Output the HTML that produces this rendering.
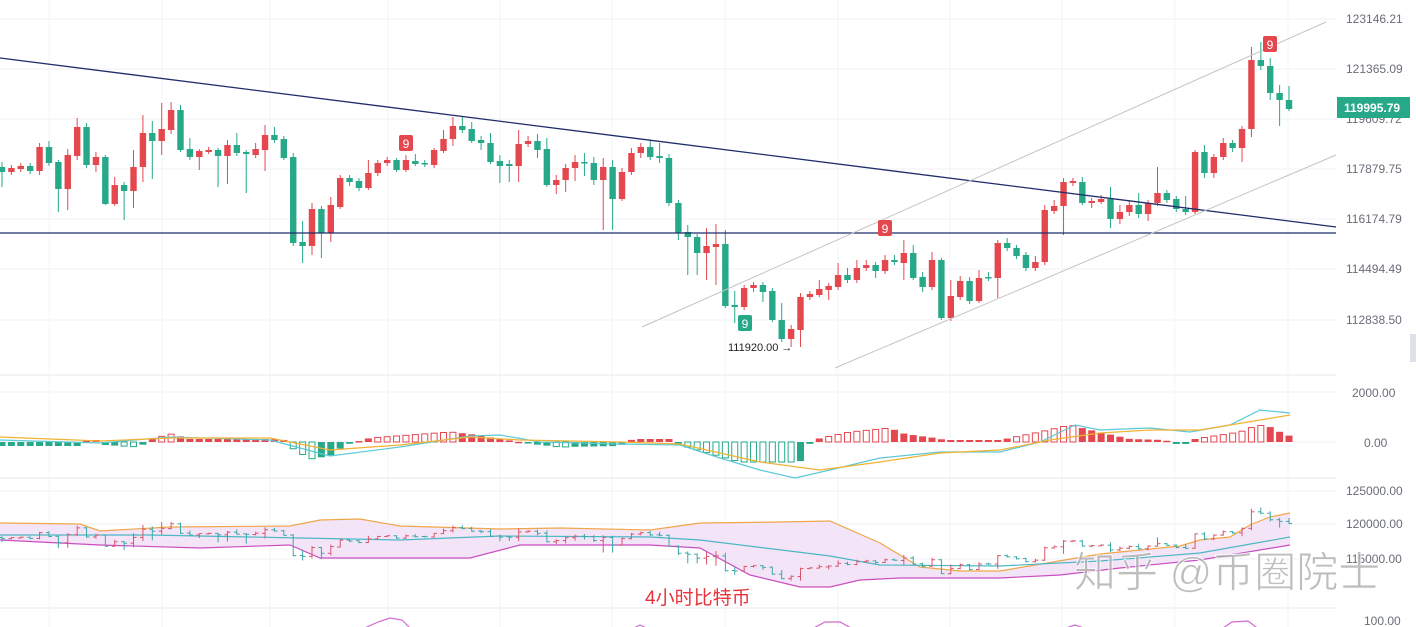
<!DOCTYPE html>
<html><head><meta charset="utf-8"><style>
html,body{margin:0;padding:0;background:#fff;width:1416px;height:627px;overflow:hidden}
svg{display:block;font-family:"Liberation Sans","Noto Sans CJK SC",sans-serif}
</style></head><body>
<svg id="s" width="1416" height="627" viewBox="0 0 1416 627" xmlns="http://www.w3.org/2000/svg">
<g id="grid"></g>
<g id="main"></g>
<g font-size="12" fill="#6a6d78">
<text x="1346" y="23">123146.21</text>
<text x="1346" y="73">121365.09</text>
<text x="1346" y="123">119609.72</text>
<text x="1346" y="173">117879.75</text>
<text x="1346" y="223">116174.79</text>
<text x="1346" y="273">114494.49</text>
<text x="1346" y="324">112838.50</text>
<text x="1352" y="397">2000.00</text>
<text x="1364" y="447">0.00</text>
<text x="1346" y="495">125000.00</text>
<text x="1346" y="528">120000.00</text>
<text x="1346" y="563">115000.00</text>
<text x="1364" y="625">100.00</text>
</g>
<rect x="1337" y="97" width="73" height="21" fill="#26a889"/>
<text x="1344" y="112" font-size="12" fill="#fff" font-weight="bold">119995.79</text>
<rect x="1410" y="334" width="6" height="28" fill="#dfe1e6"/>
<text x="645" y="604" font-size="19" fill="#e8333a">4小时比特币</text>
<text x="1074" y="587" font-size="42" fill="#a8a8a8" fill-opacity="0.75" stroke="#fff" stroke-width="0.8">知乎 @币圈院士</text>
</svg>
<script>
var NS="http://www.w3.org/2000/svg",S=document.getElementById('main'),G=document.getElementById('grid');
function el(t,a,p){var e=document.createElementNS(NS,t);for(var k in a)e.setAttribute(k,a[k]);(p||S).appendChild(e);return e;}
[19,69,119,169,219,269,320,392,442,491,524,559].forEach(function(y){el('line',{x1:0,x2:1336,y1:y,y2:y,stroke:'#f0f2f6'},G)});
[49,162,270,388,500,612,725,838,950,1062,1175,1288].forEach(function(x){el('line',{x1:x,x2:x,y1:0,y2:627,stroke:'#f3f4f8'},G)});
el('line',{x1:0,x2:1336,y1:375,y2:375,stroke:'#e8eaef'},G);
el('line',{x1:0,x2:1336,y1:478,y2:478,stroke:'#e8eaef'},G);
el('line',{x1:0,x2:1336,y1:608,y2:608,stroke:'#e8eaef'},G);
var R='#e5474f',Gc='#26a889';
var d=[
['g',167,172,162,187],['r',168,172],['r',166,169],['g',166,171],['r',147,171,143,175],['g',147,163,141,166],['g',162,189,160,212],['r',155,189,149,210],['r',127,156,118,160],['g',127,165,123,168],
['r',157,165,152,172],['g',157,204,155,205],['r',185,204,177,206],['g',185,191,182,220],['r',167,191,150,208],['r',133,167,115,182],['g',133,141,121,179],['r',129,141,103,155],['r',110,130,102,134],['g',110,150,105,152],
['g',149,157,138,160],['r',151,157,149,170],['r',150,152,147,154],['g',150,156,148,187],['r',145,156,140,184],['g',145,153,133,156],['g',152,154,150,193],['r',149,155,143,158],['r',135,150,125,171],['g',135,140,127,143],
['g',139,158,136,160],['g',157,243,153,246],['g',242,246,221,263],['r',209,246,203,255],['g',209,233,206,258],['r',205,233,197,242],['r',178,207,175,209],['g',178,182,175,186],['g',181,188,178,191],['r',173,188,160,190],
['r',163,173,160,176],['r',160,163,157,166],['g',160,170,158,172],['r',160,170,155,172],['g',161,164,154,166],['g',163,164,160,167],['r',150,165,148,168],['r',139,151,130,153],['r',126,139,117,146],['g',126,130,116,133],
['g',129,141,122,143],['g',140,143,136,150],['g',143,162,133,164],['g',161,166,155,183],['g',164,166,160,182],['r',144,166,130,182],['r',141,144,136,147],['g',141,150,134,158],['g',149,185,138,187],['r',180,185,175,194],
['r',168,180,164,192],['r',162,168,155,181],['g',162,163,153,176],['g',163,180,157,185],['r',167,180,158,230],['g',167,199,160,230],['r',172,199,168,201],['r',153,172,148,175],['r',147,153,143,158],['g',147,157,140,160],
['g',156,158,143,163],['g',158,203,154,206],['g',203,233,200,240],['g',232,237,225,275],['g',237,253,234,275],
['r',246,253,228,280],['r',244,247,224,285],['g',244,306,230,308],['g',305,307,291,323],['r',288,307,285,310],['r',285,288,282,292],['g',285,292,282,302],['g',291,320,288,322],['g',320,339,303,342],['r',329,339,325,347],
['r',297,330,293,347],['r',294,297,291,300],['r',289,295,280,297],['r',286,290,283,300],['r',275,287,263,290],['g',275,280,268,283],['r',268,280,260,283],['r',265,268,260,271],['g',265,271,262,278],['r',260,271,255,274],
['g',260,262,255,265],['r',253,263,240,280],['g',253,278,245,280],['g',277,287,272,292],['r',260,287,252,290],['g',260,318,258,320],['r',296,318,280,321],['r',281,297,276,300],['g',281,301,277,304],['r',278,301,270,303],
['g',277,278,272,281],['r',243,278,240,298],['g',243,248,238,251],['g',248,256,245,259],['g',255,268,252,271],['r',262,268,256,271],['r',210,262,205,265],['r',206,211,200,214],['r',182,206,178,235],['r',181,183,178,186],
['g',182,203,177,205],['r',201,203,198,208],['r',199,202,195,204],['g',199,219,187,228],['r',212,219,205,224],['r',205,212,200,216],['g',205,214,193,218],['r',203,214,200,221],['r',193,203,167,206],['g',193,200,190,203],
['g',199,209,196,212],['g',209,212,196,215],['r',152,212,150,214],['g',152,173,145,178],['r',157,173,154,178],['r',143,157,138,160],['g',143,148,140,152],['r',129,148,126,162],['r',60,129,47,137],['g',60,66,42,70],
['g',66,93,58,100],['g',93,100,85,126],['g',100,109,86,111]];
var N=d.length,sp=1287/(N-1),xs=[];
for(var i=0;i<N;i++){var c=d[i],x=2+i*sp;xs.push(x);var col=c[0]=='r'?R:Gc;
var wt=c[3]||c[1]-3,wb=c[4]||c[2]+3;
el('line',{x1:x,x2:x,y1:wt,y2:wb,stroke:col,'stroke-width':1});
el('rect',{x:x-3.2,y:c[1],width:6.4,height:Math.max(1.5,c[2]-c[1]),fill:col});}
el('line',{x1:0,y1:58,x2:1336,y2:227,stroke:'#1f2d6b','stroke-width':1.3});
el('line',{x1:0,y1:233,x2:1336,y2:233,stroke:'#1f2d6b','stroke-width':1.3});
el('line',{x1:642,y1:327,x2:1326,y2:22,stroke:'#c4c4c4','stroke-width':1});
el('line',{x1:835,y1:368,x2:1336,y2:155,stroke:'#c4c4c4','stroke-width':1});
function mk(x,y,col){el('rect',{x:x-7,y:y-8,width:14,height:16,rx:2,fill:col});var t=el('text',{x:x,y:y+5,'font-size':12,fill:'#fff','text-anchor':'middle'});t.textContent='9';}
mk(406,143,R);mk(885,228,R);mk(1270,44,R);mk(745,323,Gc);
var t=el('text',{x:728,y:351,'font-size':11,fill:'#222'});t.textContent='111920.00 →';
var hp=[[0,-4],[80,-4],[85,2],[100,2],[105,-3],[140,-5],[150,3],[172,8],[190,3],[270,3],[285,2],[292,-6],[310,-17],[330,-14],[345,-3],[370,4],[450,10],[470,8],[500,3],[540,-3],[560,-5],[620,-4],[630,2],[640,3],[675,3],[680,-3],[740,-20],[800,-20],[812,2],[850,10],[890,14],[905,8],[935,4],[945,2],[1000,2],[1040,10],[1070,17],[1090,12],[1130,3],[1165,2],[1175,-2],[1188,-2],[1195,3],[1240,10],[1258,17],[1270,15],[1280,10],[1290,6]];
function interp(arr,x){for(var k=1;k<arr.length;k++){if(x<=arr[k][0]){var a=arr[k-1],b=arr[k];return a[1]+(b[1]-a[1])*(x-a[0])/(b[0]-a[0]);}}return arr[arr.length-1][1];}
var prev=0;
for(var i=0;i<N;i++){var x=xs[i],h=interp(hp,x),col=h>=0?R:Gc,grow=Math.abs(h)>=Math.abs(prev);
var y=h>=0?442-h:442,hh=Math.max(1.5,Math.abs(h));
if(grow&&Math.abs(h)>4)el('rect',{x:x-3,y:y,width:6,height:hh,fill:'#fff',stroke:col,'stroke-width':1});
else el('rect',{x:x-3.5,y:y,width:7,height:hh,fill:col});prev=h;}
function pl(pts,col,w,par){el('polyline',{points:pts.map(function(p){return p.join(',')}).join(' '),fill:'none',stroke:col,'stroke-width':w||1.2},par);}
pl([[0,440],[100,443],[170,437],[270,440],[300,448],[330,456],[400,447],[470,436],[500,435],[540,442],[620,444],[680,445],[720,458],[760,470],[795,478],[830,470],[880,458],[940,452],[1000,452],[1040,442],[1075,425],[1100,430],[1150,428],[1190,432],[1230,425],[1260,410],[1290,413]],'#5cc9d6');
pl([[0,437],[100,441],[170,438],[270,438],[330,450],[400,445],[470,437],[520,440],[620,442],[680,444],[760,462],[820,470],[880,462],[940,453],[1000,450],[1050,440],[1100,433],[1150,430],[1200,430],[1260,420],[1290,415]],'#f2b233');
var up=[[0,523],[80,524],[100,531],[170,527],[290,526],[320,520],[360,519],[400,526],[500,529],[560,528],[650,530],[700,523],[780,522],[830,521],[880,543],[920,567],[960,571],[1000,571],[1100,554],[1180,546],[1200,540],[1230,537],[1250,525],[1270,517],[1290,513]];
var lo=[[0,540],[100,545],[200,548],[290,545],[320,558],[360,558],[470,558],[520,545],[650,545],[700,548],[750,575],[800,587],[830,587],[860,580],[900,578],[1000,578],[1060,575],[1120,568],[1200,560],[1290,545]];
var mid=[[0,535],[150,535],[300,538],[400,540],[500,536],[650,537],[700,540],[830,556],[880,565],[1000,566],[1100,561],[1200,553],[1290,537]];
el('polygon',{points:up.concat(lo.slice().reverse()).map(function(p){return p.join(',')}).join(' '),fill:'#f4e4f8'});
pl(up,'#f0a64a',1.2);pl(lo,'#c94fc0',1.2);pl(mid,'#4bb8c4',1.2);
function by(y){var p=123146-(y-19)*34.24;return 524+(120000-p)*0.007;}
for(var i=0;i<N;i++){var c=d[i],x=xs[i],col=c[0]=='r'?'#d9566a':'#3aa7a8';
var wt=c[3]||c[1]-3,wb=c[4]||c[2]+3;
el('line',{x1:x,x2:x,y1:by(wt),y2:by(wb),stroke:col,'stroke-width':1});
el('line',{x1:x-3,x2:x,y1:by(c[0]=='r'?c[2]:c[1]),y2:by(c[0]=='r'?c[2]:c[1]),stroke:col});
el('line',{x1:x,x2:x+3,y1:by(c[0]=='r'?c[1]:c[2]),y2:by(c[0]=='r'?c[1]:c[2]),stroke:col});}
pl([[360,630],[378,622],[390,618],[402,620],[412,630]],'#d06ad0',1.2);
pl([[630,630],[640,625],[650,630]],'#d06ad0',1.2);
pl([[810,630],[825,622],[840,622],[855,630]],'#d06ad0',1.2);
pl([[1060,630],[1075,625],[1090,630]],'#d06ad0',1.2);
pl([[1220,630],[1232,622],[1248,621],[1260,630]],'#d06ad0',1.2);
</script>
</body></html>
